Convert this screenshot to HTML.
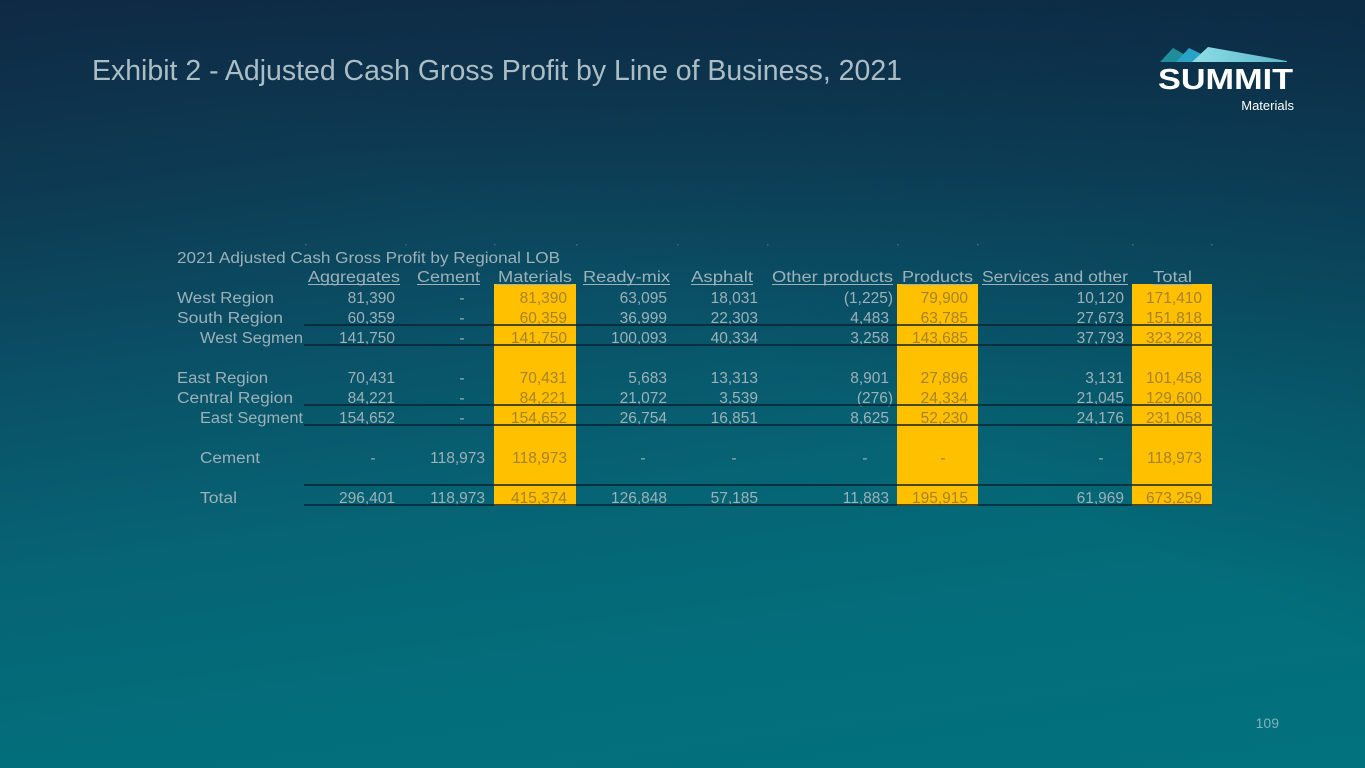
<!DOCTYPE html>
<html>
<head>
<meta charset="utf-8">
<style>
  html, body { margin:0; padding:0; width:1365px; height:768px; overflow:hidden; }
  body {
    background: linear-gradient(172deg, #0f2944 0%, #0d3a52 20%, #0a5066 40%, #066474 60%, #036e7b 80%, #02727e 100%);
    font-family: "Liberation Sans", sans-serif;
  }
  svg { position:absolute; left:0; top:0; }
  .t { font-family: "Liberation Sans", sans-serif; font-size:15.5px; fill:#9cb1b9; }
  .y { fill:#a8822c; }
  .h { font-family: "Liberation Sans", sans-serif; font-size:15.5px; fill:#9cb1b9; }
</style>
</head>
<body>
<svg width="1365" height="768" viewBox="0 0 1365 768" xmlns="http://www.w3.org/2000/svg">
  <defs>
    <linearGradient id="bgr" x1="1" y1="0" x2="0.35" y2="0.75">
      <stop offset="0" stop-color="#0c1f3a" stop-opacity="0.55"/>
      <stop offset="0.65" stop-color="#0c1f3a" stop-opacity="0"/>
    </linearGradient>
    <linearGradient id="mt" x1="0" y1="0" x2="1" y2="0">
      <stop offset="0" stop-color="#8fdde6"/>
      <stop offset="1" stop-color="#5bb8cc"/>
    </linearGradient>
  </defs>
  <rect x="0" y="0" width="1365" height="768" fill="url(#bgr)"/>

  <!-- Title -->
  <text x="92" y="80" font-family="Liberation Sans, sans-serif" font-size="29" fill="#abbec6" textLength="810" lengthAdjust="spacingAndGlyphs">Exhibit 2 - Adjusted Cash Gross Profit by Line of Business, 2021</text>

  <!-- Logo -->
  <polygon points="1160,62 1173,48 1198,62" fill="#1e8e9a"/>
  <polygon points="1176,62 1189,48 1218,62" fill="#2aa2c6"/>
  <polygon points="1192,62 1208,47 1287,61 1287,62" fill="url(#mt)"/>
  <text x="1158" y="89" font-family="Liberation Sans, sans-serif" font-weight="bold" font-size="29" fill="#ffffff" textLength="135" lengthAdjust="spacingAndGlyphs">SUMMIT</text>
  <text x="1294" y="110" text-anchor="end" font-family="Liberation Sans, sans-serif" font-size="13" fill="#ffffff">Materials</text>

  <!-- Yellow columns -->
  <rect x="494" y="284" width="82" height="222" fill="#ffc000"/>
  <rect x="897" y="284" width="81" height="222" fill="#ffc000"/>
  <rect x="1132" y="284" width="80" height="222" fill="#ffc000"/>

  <!-- faint dots -->
  <g fill="#3b6f80">
    <rect x="305" y="244" width="1.5" height="1.5"/>
    <rect x="405" y="244" width="1.5" height="1.5"/>
    <rect x="494" y="244" width="1.5" height="1.5"/>
    <rect x="576" y="244" width="1.5" height="1.5"/>
    <rect x="677" y="244" width="1.5" height="1.5"/>
    <rect x="767" y="244" width="1.5" height="1.5"/>
    <rect x="897" y="244" width="1.5" height="1.5"/>
    <rect x="977" y="244" width="1.5" height="1.5"/>
    <rect x="1132" y="244" width="1.5" height="1.5"/>
    <rect x="1211" y="244" width="1.5" height="1.5"/>
  </g>

  <!-- Table title -->
  <text x="177" y="263" class="h" textLength="383" lengthAdjust="spacingAndGlyphs">2021 Adjusted Cash Gross Profit by Regional LOB</text>

  <!-- Headers -->
  <g class="h">
    <text x="308" y="282" textLength="92" lengthAdjust="spacingAndGlyphs">Aggregates</text>
    <text x="417" y="282" textLength="63" lengthAdjust="spacingAndGlyphs">Cement</text>
    <text x="498" y="282" textLength="74" lengthAdjust="spacingAndGlyphs">Materials</text>
    <text x="583" y="282" textLength="87" lengthAdjust="spacingAndGlyphs">Ready-mix</text>
    <text x="691" y="282" textLength="62" lengthAdjust="spacingAndGlyphs">Asphalt</text>
    <text x="772" y="282" textLength="121" lengthAdjust="spacingAndGlyphs">Other products</text>
    <text x="902" y="282" textLength="71" lengthAdjust="spacingAndGlyphs">Products</text>
    <text x="982" y="282" textLength="146" lengthAdjust="spacingAndGlyphs">Services and other</text>
    <text x="1153" y="282" textLength="39" lengthAdjust="spacingAndGlyphs">Total</text>
  </g>
  <g stroke="#9cb1b9" stroke-width="1">
    <line x1="308" y1="284.5" x2="400" y2="284.5"/>
    <line x1="417" y1="284.5" x2="480" y2="284.5"/>
    <line x1="498" y1="284.5" x2="572" y2="284.5"/>
    <line x1="583" y1="284.5" x2="670" y2="284.5"/>
    <line x1="691" y1="284.5" x2="753" y2="284.5"/>
    <line x1="772" y1="284.5" x2="893" y2="284.5"/>
    <line x1="902" y1="284.5" x2="973" y2="284.5"/>
    <line x1="982" y1="284.5" x2="1128" y2="284.5"/>
    <line x1="1153" y1="284.5" x2="1192" y2="284.5"/>
  </g>

  <!-- Row labels -->
  <g class="t">
    <text x="177" y="303" textLength="97" lengthAdjust="spacingAndGlyphs">West Region</text>
    <text x="177" y="323" textLength="106" lengthAdjust="spacingAndGlyphs">South Region</text>
    <text x="200" y="343" textLength="103" lengthAdjust="spacingAndGlyphs">West Segmen</text>
    <text x="177" y="383" textLength="91" lengthAdjust="spacingAndGlyphs">East Region</text>
    <text x="177" y="403" textLength="116" lengthAdjust="spacingAndGlyphs">Central Region</text>
    <text x="200" y="423" textLength="103" lengthAdjust="spacingAndGlyphs">East Segment</text>
    <text x="200" y="463" textLength="60" lengthAdjust="spacingAndGlyphs">Cement</text>
    <text x="200" y="503" textLength="37" lengthAdjust="spacingAndGlyphs">Total</text>
  </g>

  <!-- Numbers: normal columns -->
  <g class="t" text-anchor="end">
    <text x="395" y="303">81,390</text>
    <text x="395" y="323">60,359</text>
    <text x="395" y="343">141,750</text>
    <text x="395" y="383">70,431</text>
    <text x="395" y="403">84,221</text>
    <text x="395" y="423">154,652</text>
    <text x="395" y="503">296,401</text>
    <text x="485" y="463">118,973</text>
    <text x="485" y="503">118,973</text>
    <text x="667" y="303">63,095</text>
    <text x="667" y="323">36,999</text>
    <text x="667" y="343">100,093</text>
    <text x="667" y="383">5,683</text>
    <text x="667" y="403">21,072</text>
    <text x="667" y="423">26,754</text>
    <text x="667" y="503">126,848</text>
    <text x="758" y="303">18,031</text>
    <text x="758" y="323">22,303</text>
    <text x="758" y="343">40,334</text>
    <text x="758" y="383">13,313</text>
    <text x="758" y="403">3,539</text>
    <text x="758" y="423">16,851</text>
    <text x="758" y="503">57,185</text>
    <text x="893" y="303">(1,225)</text>
    <text x="889" y="323">4,483</text>
    <text x="889" y="343">3,258</text>
    <text x="889" y="383">8,901</text>
    <text x="893" y="403">(276)</text>
    <text x="889" y="423">8,625</text>
    <text x="889" y="503">11,883</text>
    <text x="1124" y="303">10,120</text>
    <text x="1124" y="323">27,673</text>
    <text x="1124" y="343">37,793</text>
    <text x="1124" y="383">3,131</text>
    <text x="1124" y="403">21,045</text>
    <text x="1124" y="423">24,176</text>
    <text x="1124" y="503">61,969</text>
  </g>
  <g class="t" text-anchor="middle">
    <text x="462" y="303">-</text>
    <text x="462" y="323">-</text>
    <text x="462" y="343">-</text>
    <text x="462" y="383">-</text>
    <text x="462" y="403">-</text>
    <text x="462" y="423">-</text>
    <text x="373" y="463">-</text>
    <text x="643" y="463">-</text>
    <text x="734" y="463">-</text>
    <text x="865" y="463">-</text>
    <text x="1101" y="463">-</text>
  </g>

  <!-- Numbers: yellow columns -->
  <g class="t y" text-anchor="end">
    <text x="567" y="303">81,390</text>
    <text x="567" y="323">60,359</text>
    <text x="567" y="343">141,750</text>
    <text x="567" y="383">70,431</text>
    <text x="567" y="403">84,221</text>
    <text x="567" y="423">154,652</text>
    <text x="567" y="463">118,973</text>
    <text x="567" y="503">415,374</text>

    <text x="968" y="303">79,900</text>
    <text x="968" y="323">63,785</text>
    <text x="968" y="343">143,685</text>
    <text x="968" y="383">27,896</text>
    <text x="968" y="403">24,334</text>
    <text x="968" y="423">52,230</text>
    <text x="968" y="503">195,915</text>

    <text x="1202" y="303">171,410</text>
    <text x="1202" y="323">151,818</text>
    <text x="1202" y="343">323,228</text>
    <text x="1202" y="383">101,458</text>
    <text x="1202" y="403">129,600</text>
    <text x="1202" y="423">231,058</text>
    <text x="1202" y="463">118,973</text>
    <text x="1202" y="503">673,259</text>
  </g>
  <text x="943" y="463" class="t y" text-anchor="middle">-</text>

  <!-- Border lines -->
  <g stroke="#0a2230" stroke-width="1.6">
    <line x1="304" y1="325" x2="1212" y2="325"/>
    <line x1="304" y1="345" x2="1212" y2="345"/>
    <line x1="304" y1="405" x2="1212" y2="405"/>
    <line x1="304" y1="425" x2="1212" y2="425"/>
    <line x1="304" y1="485" x2="1212" y2="485"/>
    <line x1="304" y1="505" x2="1212" y2="505"/>
  </g>

  <!-- Page number -->
  <text x="1279" y="728" text-anchor="end" font-family="Liberation Sans, sans-serif" font-size="14" fill="#7fb3bd">109</text>
</svg>
</body>
</html>
